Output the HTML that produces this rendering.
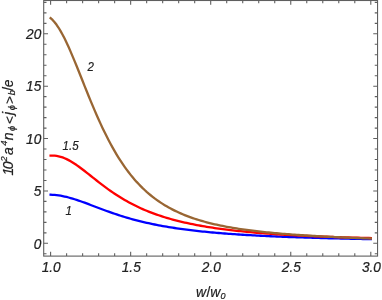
<!DOCTYPE html>
<html><head><meta charset="utf-8"><title>plot</title>
<style>
html,body{margin:0;padding:0;background:#fff;}
body{width:382px;height:300px;overflow:hidden;}
svg{display:block;will-change:transform;}
text{font-family:"Liberation Sans",sans-serif;font-style:italic;fill:#222;stroke:#222;stroke-width:0.2px;}
</style></head><body>
<svg width="382" height="300" viewBox="0 0 382 300">
<rect width="382" height="300" fill="#fff"/>
<g fill="none" stroke-width="2.3" stroke-linejoin="round" stroke-linecap="square">
<path d="M50.60,194.73L52.60,194.82L54.60,194.96L56.60,195.16L58.61,195.42L60.61,195.73L62.61,196.10L64.61,196.52L66.61,196.98L68.61,197.49L70.61,198.03L72.61,198.62L74.61,199.24L76.62,199.88L78.62,200.56L80.62,201.25L82.62,201.97L84.62,202.70L86.62,203.44L88.62,204.19L90.62,204.95L92.63,205.71L94.63,206.47L96.63,207.23L98.63,207.99L100.63,208.75L102.63,209.49L104.63,210.23L106.64,210.96L108.64,211.68L110.64,212.39L112.64,213.09L114.64,213.77L116.64,214.44L118.64,215.10L120.64,215.74L122.64,216.37L124.65,216.99L126.65,217.59L128.65,218.17L130.65,218.74L132.65,219.30L134.65,219.84L136.65,220.36L138.66,220.88L140.66,221.38L142.66,221.86L144.66,222.33L146.66,222.79L148.66,223.24L150.66,223.67L152.66,224.09L154.66,224.50L156.67,224.90L158.67,225.29L160.67,225.66L162.67,226.03L164.67,226.38L166.67,226.73L168.67,227.06L170.67,227.39L172.68,227.71L174.68,228.01L176.68,228.31L178.68,228.60L180.68,228.88L182.68,229.16L184.68,229.43L186.69,229.69L188.69,229.94L190.69,230.18L192.69,230.42L194.69,230.65L196.69,230.88L198.69,231.10L200.69,231.32L202.70,231.52L204.70,231.73L206.70,231.93L208.70,232.12L210.70,232.31L212.70,232.49L214.70,232.67L216.70,232.84L218.70,233.01L220.71,233.17L222.71,233.34L224.71,233.49L226.71,233.65L228.71,233.79L230.71,233.94L232.71,234.08L234.72,234.22L236.72,234.36L238.72,234.49L240.72,234.62L242.72,234.74L244.72,234.87L246.72,234.99L248.72,235.10L250.72,235.22L252.73,235.33L254.73,235.44L256.73,235.55L258.73,235.65L260.73,235.76L262.73,235.86L264.73,235.95L266.74,236.05L268.74,236.14L270.74,236.24L272.74,236.33L274.74,236.41L276.74,236.50L278.74,236.58L280.74,236.67L282.75,236.75L284.75,236.83L286.75,236.90L288.75,236.98L290.75,237.06L292.75,237.13L294.75,237.20L296.75,237.27L298.75,237.34L300.76,237.41L302.76,237.47L304.76,237.54L306.76,237.60L308.76,237.66L310.76,237.72L312.76,237.78L314.77,237.84L316.77,237.90L318.77,237.96L320.77,238.01L322.77,238.07L324.77,238.12L326.77,238.18L328.77,238.23L330.78,238.28L332.78,238.33L334.78,238.38L336.78,238.43L338.78,238.47L340.78,238.52L342.78,238.57L344.78,238.61L346.79,238.65L348.79,238.70L350.79,238.74L352.79,238.78L354.79,238.82L356.79,238.86L358.79,238.90L360.79,238.94L362.80,238.98L364.80,239.02L366.80,239.06L368.80,239.10L370.80,239.13" stroke="#0000ff"/>
<path d="M50.60,155.65L52.60,155.59L54.60,155.67L56.60,155.90L58.61,156.28L60.61,156.79L62.61,157.44L64.61,158.22L66.61,159.12L68.61,160.12L70.61,161.23L72.61,162.44L74.61,163.72L76.62,165.07L78.62,166.49L80.62,167.96L82.62,169.46L84.62,171.01L86.62,172.57L88.62,174.15L90.62,175.74L92.63,177.33L94.63,178.92L96.63,180.50L98.63,182.07L100.63,183.61L102.63,185.14L104.63,186.64L106.64,188.12L108.64,189.56L110.64,190.98L112.64,192.36L114.64,193.71L116.64,195.02L118.64,196.30L120.64,197.55L122.64,198.76L124.65,199.94L126.65,201.09L128.65,202.20L130.65,203.28L132.65,204.32L134.65,205.33L136.65,206.32L138.66,207.27L140.66,208.19L142.66,209.08L144.66,209.95L146.66,210.79L148.66,211.60L150.66,212.38L152.66,213.14L154.66,213.88L156.67,214.59L158.67,215.28L160.67,215.95L162.67,216.60L164.67,217.23L166.67,217.84L168.67,218.42L170.67,219.00L172.68,219.55L174.68,220.09L176.68,220.61L178.68,221.11L180.68,221.60L182.68,222.07L184.68,222.53L186.69,222.98L188.69,223.41L190.69,223.83L192.69,224.24L194.69,224.63L196.69,225.02L198.69,225.39L200.69,225.75L202.70,226.11L204.70,226.45L206.70,226.78L208.70,227.10L210.70,227.42L212.70,227.72L214.70,228.02L216.70,228.31L218.70,228.59L220.71,228.87L222.71,229.13L224.71,229.39L226.71,229.64L228.71,229.89L230.71,230.13L232.71,230.36L234.72,230.59L236.72,230.81L238.72,231.02L240.72,231.23L242.72,231.44L244.72,231.63L246.72,231.83L248.72,232.02L250.72,232.20L252.73,232.38L254.73,232.56L256.73,232.73L258.73,232.89L260.73,233.06L262.73,233.22L264.73,233.37L266.74,233.52L268.74,233.67L270.74,233.81L272.74,233.95L274.74,234.09L276.74,234.23L278.74,234.36L280.74,234.48L282.75,234.61L284.75,234.73L286.75,234.85L288.75,234.97L290.75,235.08L292.75,235.19L294.75,235.30L296.75,235.41L298.75,235.51L300.76,235.61L302.76,235.71L304.76,235.81L306.76,235.90L308.76,235.99L310.76,236.09L312.76,236.17L314.77,236.26L316.77,236.34L318.77,236.43L320.77,236.51L322.77,236.59L324.77,236.66L326.77,236.74L328.77,236.81L330.78,236.89L332.78,236.96L334.78,237.03L336.78,237.09L338.78,237.16L340.78,237.23L342.78,237.29L344.78,237.35L346.79,237.41L348.79,237.47L350.79,237.53L352.79,237.59L354.79,237.64L356.79,237.70L358.79,237.75L360.79,237.80L362.80,237.85L364.80,237.90L366.80,237.95L368.80,238.00L370.80,238.04" stroke="#ff0000"/>
<path d="M50.60,18.16L52.60,19.97L54.60,22.19L56.60,24.80L58.61,27.77L60.61,31.09L62.61,34.70L64.61,38.60L66.61,42.74L68.61,47.10L70.61,51.64L72.61,56.33L74.61,61.15L76.62,66.05L78.62,71.02L80.62,76.03L82.62,81.05L84.62,86.06L86.62,91.05L88.62,95.99L90.62,100.86L92.63,105.67L94.63,110.38L96.63,114.99L98.63,119.50L100.63,123.89L102.63,128.17L104.63,132.32L106.64,136.35L108.64,140.24L110.64,144.01L112.64,147.65L114.64,151.16L116.64,154.54L118.64,157.79L120.64,160.93L122.64,163.94L124.65,166.83L126.65,169.61L128.65,172.28L130.65,174.84L132.65,177.29L134.65,179.64L136.65,181.90L138.66,184.06L140.66,186.13L142.66,188.12L144.66,190.02L146.66,191.84L148.66,193.58L150.66,195.25L152.66,196.85L154.66,198.39L156.67,199.86L158.67,201.26L160.67,202.61L162.67,203.91L164.67,205.15L166.67,206.34L168.67,207.48L170.67,208.57L172.68,209.62L174.68,210.62L176.68,211.59L178.68,212.52L180.68,213.41L182.68,214.26L184.68,215.09L186.69,215.88L188.69,216.63L190.69,217.36L192.69,218.07L194.69,218.74L196.69,219.39L198.69,220.02L200.69,220.62L202.70,221.20L204.70,221.76L206.70,222.30L208.70,222.82L210.70,223.32L212.70,223.81L214.70,224.27L216.70,224.72L218.70,225.16L220.71,225.58L222.71,225.99L224.71,226.38L226.71,226.76L228.71,227.13L230.71,227.48L232.71,227.83L234.72,228.16L236.72,228.48L238.72,228.79L240.72,229.10L242.72,229.39L244.72,229.67L246.72,229.95L248.72,230.22L250.72,230.48L252.73,230.73L254.73,230.97L256.73,231.21L258.73,231.44L260.73,231.67L262.73,231.89L264.73,232.10L266.74,232.31L268.74,232.51L270.74,232.70L272.74,232.89L274.74,233.08L276.74,233.26L278.74,233.44L280.74,233.61L282.75,233.78L284.75,233.94L286.75,234.10L288.75,234.26L290.75,234.41L292.75,234.56L294.75,234.70L296.75,234.84L298.75,234.98L300.76,235.12L302.76,235.25L304.76,235.38L306.76,235.51L308.76,235.63L310.76,235.75L312.76,235.87L314.77,235.99L316.77,236.10L318.77,236.22L320.77,236.33L322.77,236.43L324.77,236.54L326.77,236.64L328.77,236.75L330.78,236.85L332.78,236.94L334.78,237.04L336.78,237.14L338.78,237.23L340.78,237.32L342.78,237.41L344.78,237.50L346.79,237.59L348.79,237.67L350.79,237.76L352.79,237.84L354.79,237.92L356.79,238.00L358.79,238.08L360.79,238.16L362.80,238.23L364.80,238.31L366.80,238.38L368.80,238.46L370.80,238.53" stroke="#996633"/>
</g>
<g stroke="#5f5f5f" stroke-width="1.1" fill="none">
<rect x="43.7" y="0.5" width="333.85" height="255.60"/>
<path d="M50.60,256.1v-4.3M50.60,0.5v4.3M66.61,256.1v-2.8M66.61,0.5v2.8M82.62,256.1v-2.8M82.62,0.5v2.8M98.63,256.1v-2.8M98.63,0.5v2.8M114.64,256.1v-2.8M114.64,0.5v2.8M130.65,256.1v-4.3M130.65,0.5v4.3M146.66,256.1v-2.8M146.66,0.5v2.8M162.67,256.1v-2.8M162.67,0.5v2.8M178.68,256.1v-2.8M178.68,0.5v2.8M194.69,256.1v-2.8M194.69,0.5v2.8M210.70,256.1v-4.3M210.70,0.5v4.3M226.71,256.1v-2.8M226.71,0.5v2.8M242.72,256.1v-2.8M242.72,0.5v2.8M258.73,256.1v-2.8M258.73,0.5v2.8M274.74,256.1v-2.8M274.74,0.5v2.8M290.75,256.1v-4.3M290.75,0.5v4.3M306.76,256.1v-2.8M306.76,0.5v2.8M322.77,256.1v-2.8M322.77,0.5v2.8M338.78,256.1v-2.8M338.78,0.5v2.8M354.79,256.1v-2.8M354.79,0.5v2.8M370.80,256.1v-4.3M370.80,0.5v4.3M43.7,253.78h2.8M377.55,253.78h-2.8M43.7,243.30h4.3M377.55,243.30h-4.3M43.7,232.83h2.8M377.55,232.83h-2.8M43.7,222.35h2.8M377.55,222.35h-2.8M43.7,211.88h2.8M377.55,211.88h-2.8M43.7,201.40h2.8M377.55,201.40h-2.8M43.7,190.93h4.3M377.55,190.93h-4.3M43.7,180.45h2.8M377.55,180.45h-2.8M43.7,169.98h2.8M377.55,169.98h-2.8M43.7,159.50h2.8M377.55,159.50h-2.8M43.7,149.03h2.8M377.55,149.03h-2.8M43.7,138.55h4.3M377.55,138.55h-4.3M43.7,128.08h2.8M377.55,128.08h-2.8M43.7,117.60h2.8M377.55,117.60h-2.8M43.7,107.13h2.8M377.55,107.13h-2.8M43.7,96.65h2.8M377.55,96.65h-2.8M43.7,86.18h4.3M377.55,86.18h-4.3M43.7,75.70h2.8M377.55,75.70h-2.8M43.7,65.23h2.8M377.55,65.23h-2.8M43.7,54.75h2.8M377.55,54.75h-2.8M43.7,44.28h2.8M377.55,44.28h-2.8M43.7,33.80h4.3M377.55,33.80h-4.3M43.7,23.33h2.8M377.55,23.33h-2.8M43.7,12.85h2.8M377.55,12.85h-2.8M43.7,2.38h2.8M377.55,2.38h-2.8"/>
</g>
<text transform="translate(51.20,272.10) scale(0.975,1.03)" font-size="14" text-anchor="middle">1.0</text>
<text transform="translate(131.25,272.10) scale(0.975,1.03)" font-size="14" text-anchor="middle">1.5</text>
<text transform="translate(211.30,272.10) scale(0.975,1.03)" font-size="14" text-anchor="middle">2.0</text>
<text transform="translate(291.35,272.10) scale(0.975,1.03)" font-size="14" text-anchor="middle">2.5</text>
<text transform="translate(371.40,272.10) scale(0.975,1.03)" font-size="14" text-anchor="middle">3.0</text>
<text transform="translate(41.30,248.50) scale(0.975,1.03)" font-size="14" text-anchor="end">0</text>
<text transform="translate(41.30,196.12) scale(0.975,1.03)" font-size="14" text-anchor="end">5</text>
<text transform="translate(41.30,143.75) scale(0.975,1.03)" font-size="14" text-anchor="end">10</text>
<text transform="translate(41.30,91.38) scale(0.975,1.03)" font-size="14" text-anchor="end">15</text>
<text transform="translate(41.30,39.00) scale(0.975,1.03)" font-size="14" text-anchor="end">20</text>
<g font-size="12">
<text transform="translate(87.40,71.00) scale(0.96,1.0)" font-size="12" text-anchor="start">2</text>
<text transform="translate(62.60,149.60) scale(0.96,1.0)" font-size="12" text-anchor="start">1.5</text>
<text transform="translate(65.40,214.70) scale(0.96,1.0)" font-size="12" text-anchor="start">1</text>
</g>
<text transform="translate(196.00,296.60) scale(1.0,1.0)" font-size="14" text-anchor="start">w<tspan style="font-style:normal" dx="0.3">/</tspan><tspan dx="0.0">w</tspan></text>
<text transform="translate(220.40,298.50) scale(1.0,1.0)" font-size="9" text-anchor="start">0</text>
<g transform="translate(12.8,176.0) rotate(-90)">
<text x="0.6" y="0" font-size="14" style="">1</text>
<text x="6.8" y="0" font-size="14" style="">0</text>
<text x="14.5" y="-5.9" font-size="9.3" style="">2</text>
<text x="21.1" y="0" font-size="14" style="">a</text>
<text x="30.3" y="-5.9" font-size="9.3" style="">4</text>
<text x="35.7" y="0" font-size="14" style="">n</text>
<text x="45.1" y="2.1" font-size="9.3" style="">&#981;</text>
<text x="52.0" y="1.0" font-size="13" style="">&lt;</text>
<text x="60.9" y="0" font-size="14" style="">j</text>
<text x="65.8" y="2.1" font-size="9.3" style="">&#981;</text>
<text x="72.0" y="1.0" font-size="13" style="">&gt;</text>
<text x="80.8" y="2.1" font-size="9.3" style="">b</text>
<text x="85.3" y="0" font-size="14" style="font-style:normal;">/</text>
<text x="88.7" y="0" font-size="14" style="">e</text>
</g>
</svg></body></html>
